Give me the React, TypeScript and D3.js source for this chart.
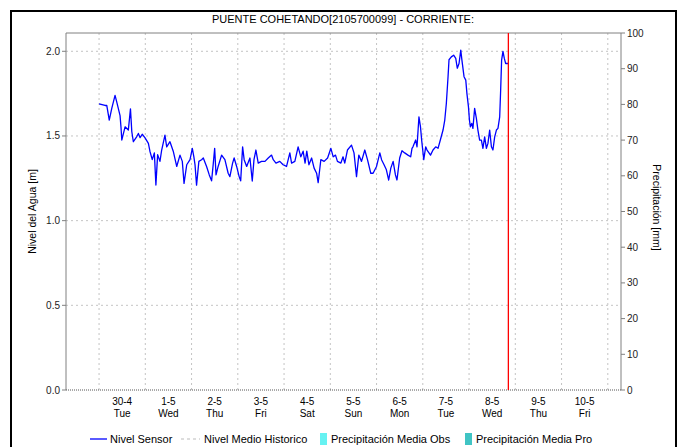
import React from "react";
import * as d3 from "d3";

const titulo = "PUENTE COHETANDO[2105700099] - CORRIENTE:";
// hours after 30-4-2024 00:00
const horas = [0,3.1,4.0,5.3,6.6,8.3,9.2,10.9,11.4,11.8,
13.5,15.2,16.3,17.0,17.8,19.5,20.4,21.3,22.4,23.8,
25.6,26.4,27.6,28.7,29.5,30.4,31.6,32.5,34.2,35.1,
36.8,38.5,40.3,42.0,43.2,44.1,45.5,47.2,48.4,49.2,
49.8,50.6,51.8,53.2,54.1,55.8,57.2,58.4,59.3,60.0,
60.7,61.8,63.6,65.3,67.0,67.9,69.3,70.1,71.4,72.7,
73.5,74.5,75.3,76.6,78.3,79.5,80.4,81.4,82.6,84.3,
86.1,87.8,89.5,90.4,91.8,93.8,95.5,97.3,99.0,99.9,
101.6,103.3,104.7,105.9,106.9,107.8,108.9,110.3,111.6,112.9,
113.7,115.1,116.8,118.6,120.3,121.5,122.7,123.7,125.5,126.6,
127.5,128.9,131.0,132.3,133.6,134.8,136.2,137.9,139.3,141.0,
142.2,144.0,145.7,146.6,147.9,149.1,150.3,151.4,152.6,153.8,
154.6,156.0,157.2,158.6,160.3,161.7,162.4,162.9,164.3,165.0,
166.0,166.8,167.4,168.5,169.5,170.2,171.2,172.0,173.3,174.7,
175.9,177.1,178.5,179.4,180.2,181.1,181.6,182.8,184.0,185.1,
185.9,186.8,187.7,188.3,189.4,190.3,190.9,191.7,192.2,192.7,
193.4,194.0,194.9,195.8,196.6,197.5,198.4,199.2,200.1,201.0,
201.8,202.7,203.6,204.4,205.3,206.2,207.0,207.9,208.4,208.9,
209.6,210.3,211.0,212.2];
const nivel = [1.69,1.68,1.68,1.594,1.663,1.74,1.70,1.62,1.55,1.476,
1.554,1.535,1.66,1.525,1.466,1.495,1.515,1.49,1.51,1.49,
1.456,1.41,1.36,1.40,1.21,1.39,1.35,1.417,1.505,1.436,
1.466,1.41,1.32,1.387,1.35,1.22,1.33,1.36,1.427,1.377,
1.33,1.21,1.35,1.36,1.37,1.32,1.27,1.235,1.34,1.427,
1.27,1.32,1.387,1.36,1.28,1.26,1.34,1.37,1.32,1.26,
1.235,1.436,1.36,1.32,1.37,1.234,1.36,1.417,1.34,1.35,
1.35,1.37,1.387,1.36,1.34,1.35,1.33,1.32,1.40,1.34,
1.35,1.436,1.377,1.41,1.34,1.41,1.33,1.37,1.31,1.28,
1.224,1.36,1.35,1.37,1.427,1.377,1.387,1.35,1.34,1.377,
1.34,1.417,1.446,1.40,1.26,1.387,1.35,1.417,1.36,1.28,
1.28,1.32,1.40,1.36,1.33,1.30,1.24,1.31,1.35,1.27,
1.24,1.37,1.413,1.40,1.387,1.377,1.427,1.436,1.476,1.436,
1.613,1.554,1.476,1.36,1.436,1.417,1.40,1.387,1.417,1.436,
1.427,1.476,1.535,1.594,1.69,1.85,1.95,1.967,1.977,1.958,
1.90,1.928,2.007,1.948,1.85,1.83,1.75,1.672,1.594,1.554,
1.574,1.545,1.663,1.604,1.535,1.476,1.476,1.427,1.495,1.427,
1.456,1.535,1.436,1.417,1.495,1.535,1.545,1.613,1.77,1.948,
2.00,1.958,1.928,1.928];
const horaActual = 212.4;
const nivelTicks = [0, 0.5, 1.0, 1.5, 2.0];
const precipTicks = [0, 10, 20, 30, 40, 50, 60, 70, 80, 90, 100];
const leyenda = ["Nivel Sensor", "Nivel Medio Historico", "Precipitación Media Obs", "Precipitación Media Pro"];

const FONT = "'Liberation Sans', Arial, sans-serif";

export default function App() {
  const base = new Date(2024, 3, 30, 0, 0).getTime();
  const H = 3600e3;
  const L = 66, R = 621, T = 33, B = 390;
  const x = d3.scaleTime()
    .domain([new Date(base - 17.15 * H), new Date(base - 17.15 * H + 12 * 24 * H)])
    .range([L, R]);
  const y = d3.scaleLinear().domain([0, 2.108]).range([B, T]);
  const y2 = d3.scaleLinear().domain([0, 100]).range([B, T]);
  const data = horas.map((h, i) => ({ t: new Date(base + h * H), v: nivel[i] }));
  const line = d3.line<any>().x(d => x(d.t)).y(d => y(d.v));
  const days = d3.timeDay.range(x.domain()[0], x.domain()[1]);
  const labelDays = days.filter(d => x(d3.timeHour.offset(d, 24)) <= R);
  const fDate = d3.timeFormat("%-d-%-m");
  const fDay = d3.timeFormat("%a");
  const xNow = x(new Date(base + horaActual * H));

  return (
    <svg width={683} height={447} style={{ position: "absolute", left: 0, top: 0, background: "#fff" }}
      fontFamily={FONT}>
      <rect x={11} y={11} width={665} height={470} fill="#fff" stroke="#000" strokeWidth={2} />
      <text x={343} y={23} textAnchor="middle" fontSize={11} fill="#000">{titulo}</text>

      {/* grid */}
      {nivelTicks.filter(t => t > 0).map(t => (
        <line key={"h" + t} x1={L} x2={R} y1={y(t)} y2={y(t)} stroke="#c4c4c4" strokeDasharray="2,3" />
      ))}
      {days.map(d => (
        <line key={"v" + d.getTime()} x1={x(d)} x2={x(d)} y1={T} y2={B} stroke="#c4c4c4" strokeDasharray="2,3" />
      ))}

      {/* frame */}
      <line x1={L} x2={L} y1={T} y2={B} stroke="#808080" />
      <line x1={L} x2={R} y1={T} y2={T} stroke="#808080" />
      <line x1={R} x2={R} y1={T} y2={B} stroke="#808080" />
      <line x1={L} x2={R} y1={B} y2={B} stroke="#555" strokeDasharray="1,1" />

      {/* left axis */}
      {nivelTicks.map(t => (
        <g key={"l" + t}>
          <line x1={L - 4} x2={L} y1={y(t)} y2={y(t)} stroke="#808080" />
          <text x={L - 6} y={y(t) + 3.5} textAnchor="end" fontSize={10} fill="#222">{t.toFixed(1)}</text>
        </g>
      ))}
      <text transform={`translate(36,${(T + B) / 2}) rotate(-90)`} textAnchor="middle" fontSize={10.5} fill="#000">Nivel del Agua [m]</text>

      {/* right axis */}
      {precipTicks.map(t => (
        <g key={"r" + t}>
          <line x1={R} x2={R + 4} y1={y2(t)} y2={y2(t)} stroke="#808080" />
          <text x={R + 6} y={y2(t) + 3.5} textAnchor="start" fontSize={10} fill="#222">{t}</text>
        </g>
      ))}
      <text transform={`translate(653,${(T + B) / 2 - 4}) rotate(90)`} textAnchor="middle" fontSize={10.5} fill="#000">Precipitación [mm]</text>

      {/* x labels */}
      {labelDays.map(d => {
        const cx = x(d3.timeHour.offset(d, 12));
        return (
          <g key={"x" + d.getTime()}>
            <text x={cx} y={405} textAnchor="middle" fontSize={10} fill="#000">{fDate(d)}</text>
            <text x={cx} y={417} textAnchor="middle" fontSize={10} fill="#000">{fDay(d)}</text>
          </g>
        );
      })}

      {/* series */}
      <path d={line(data) || ""} fill="none" stroke="#0000ff" strokeWidth={1.3} strokeLinejoin="round" />
      <line x1={xNow} x2={xNow} y1={T} y2={B} stroke="#ff0000" strokeWidth={1.3} />

      {/* legend */}
      <line x1={90} x2={107} y1={439} y2={439} stroke="#0000ff" strokeWidth={1.3} />
      <text x={110} y={443} fontSize={11} fill="#000">{leyenda[0]}</text>
      <line x1={181} x2={200} y1={439} y2={439} stroke="#bbb" strokeDasharray="3,3" />
      <text x={204} y={443} fontSize={11} fill="#000">{leyenda[1]}</text>
      <rect x={320} y={433} width={7} height={12} fill="#66f2f2" />
      <text x={331} y={443} fontSize={11} fill="#000">{leyenda[2]}</text>
      <rect x={465} y={433} width={7} height={12} fill="#40c4c4" />
      <text x={476} y={443} fontSize={11} fill="#000">{leyenda[3]}</text>
    </svg>
  );
}
